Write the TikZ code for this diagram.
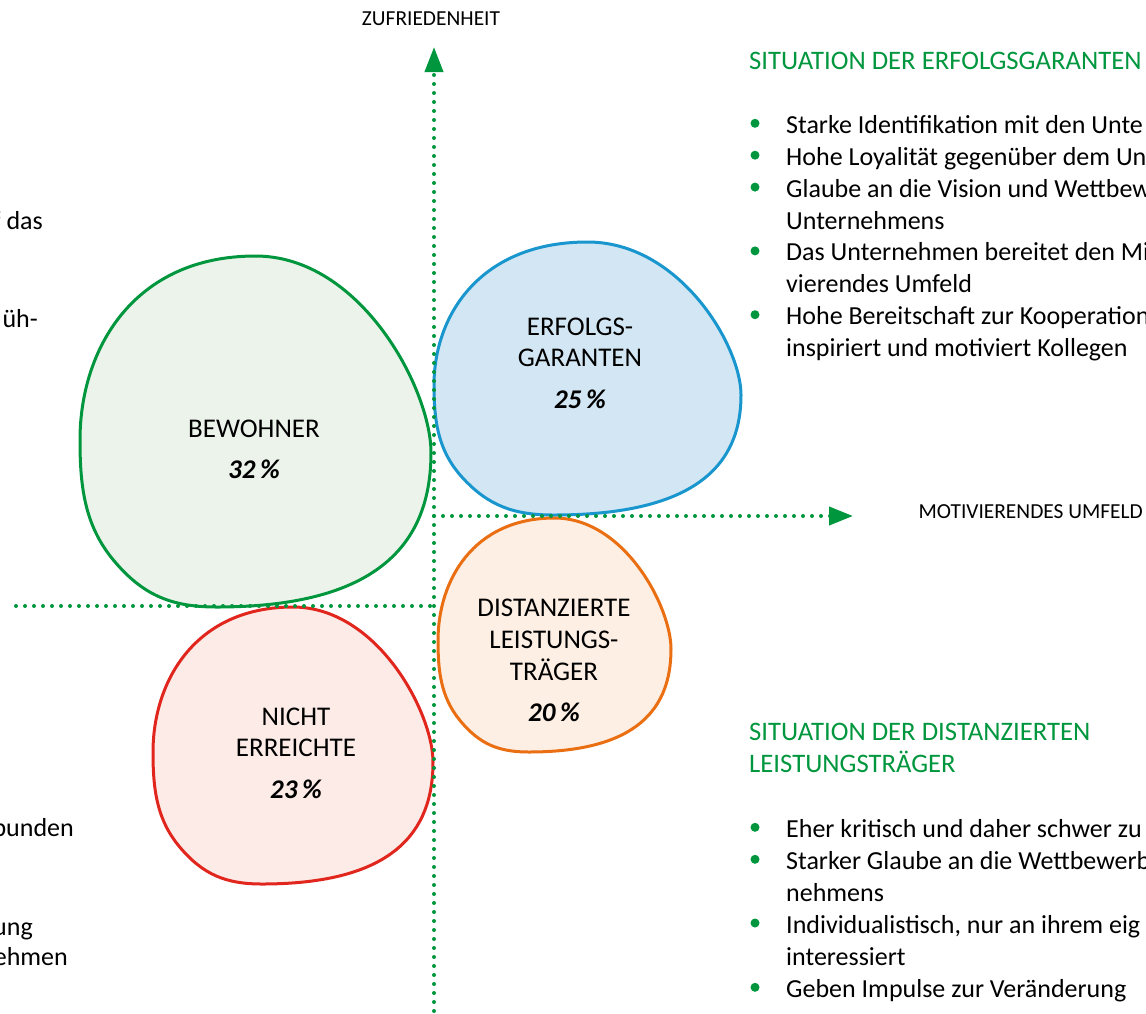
\documentclass[tikz,border=0pt]{standalone}
\usepackage{fontspec}
\setmainfont{Carlito}
\usetikzlibrary{positioning}
\usetikzlibrary{arrows.meta}

\definecolor{ggreen}{RGB}{0,150,62}
\definecolor{gfill}{RGB}{235,243,234}
\definecolor{bline}{RGB}{25,150,205}
\definecolor{bfill}{RGB}{210,230,243}
\definecolor{oline}{RGB}{234,110,18}
\definecolor{ofill}{RGB}{253,239,228}
\definecolor{rline}{RGB}{225,38,30}
\definecolor{rfill}{RGB}{252,235,230}

% one blob outline in a unit box, y pointing down
\newcommand{\blobpath}{(0.5,0) .. controls (0.8,0) and (1,0.38) .. (1,0.56)
  .. controls (1,0.813) and (0.857,1) .. (0.389,1)
  .. controls (0.26,1) and (0.178,0.966) .. (0.095,0.866)
  .. controls (0.012,0.766) and (0,0.654) .. (0,0.524)
  .. controls (0,0.265) and (0.153,0) .. (0.5,0) -- cycle}

\tikzset{
  blob/.style={line width=3pt},
  axis/.style={ggreen,line width=4pt,line cap=round,dash pattern=on 0pt off 9pt},
  lbl/.style={font=\fontsize{27}{31.7}\selectfont,align=center,anchor=base,inner sep=0pt},
  pct/.style={font=\fontsize{27}{30}\selectfont\bfseries\itshape,anchor=base,inner sep=0pt},
  head/.style={font=\fontsize{26.7}{32}\selectfont,text=ggreen,anchor=base west,inner sep=0pt},
  txt/.style={font=\fontsize{26}{32}\selectfont,anchor=base west,inner sep=0pt},
  cut/.style={font=\fontsize{26}{32}\selectfont,anchor=base east,inner sep=0pt},
  axlbl/.style={font=\fontsize{21.4}{24}\selectfont,anchor=base,inner sep=0pt},
}

\begin{document}
\begin{tikzpicture}[x=1pt,y=-1pt]
\useasboundingbox (0,0) rectangle (1146,1013);
\clip (0,0) rectangle (1146,1013);

% blobs
\begin{scope}[shift={(80,256)},xscale=351,yscale=351]
\draw[blob,draw=ggreen,fill=gfill] \blobpath;
\end{scope}
\begin{scope}[shift={(434,242)},xscale=307,yscale=273]
\draw[blob,draw=bline,fill=bfill] \blobpath;
\end{scope}
\begin{scope}[shift={(438,518)},xscale=233,yscale=234]
\draw[blob,draw=oline,fill=ofill] \blobpath;
\end{scope}
\begin{scope}[shift={(153,607)},xscale=280,yscale=277]
\draw[blob,draw=rline,fill=rfill] \blobpath;
\end{scope}

% axes
\coordinate (ybot) at (434,1020);
\coordinate (ytop) at (434,47);
\coordinate (orig) at (434,516);
\coordinate (xend) at (853,516);
\coordinate (lstart) at (16,606);
\coordinate (lend) at (432,606);
\draw[axis,-{Triangle[length=25pt,width=18pt]}] (ybot) -- (ytop);
\draw[axis,-{Triangle[length=24pt,width=18pt]}] (orig) -- (xend);
\draw[axis] (lstart) -- (lend);

\node[axlbl] (zuf) at (431,25) {ZUFRIEDENHEIT};
\node[axlbl,anchor=base east] (mot) at (1143,518.3) {MOTIVIERENDES UMFELD};

% labels in the blobs
\node[lbl] (bew) at (254,437.3) {BEWOHNER};
\node[pct] (bewp) at (254,478.3) {32\,\%};
\node[lbl] (erf) at (580,366.7) {ERFOLGS-\\GARANTEN};
\node[pct] (erfp) at (580,408.3) {25\,\%};
\node[lbl] (dis) at (554,680) {DISTANZIERTE\\LEISTUNGS-\\TRÄGER};
\node[pct] (disp) at (554,721.7) {20\,\%};
\node[lbl] (nic) at (296,756.7) {NICHT\\ERREICHTE};
\node[pct] (nicp) at (296,798.3) {23\,\%};

% right column, top
\node[head] (h1) at (749,69.3) {SITUATION DER ERFOLGSGARANTEN};
\fill[ggreen] (755,123.3) circle (4.5);
\node[txt] (a1) at (786,133.3) {Starke Identifikation mit den Unte};
\fill[ggreen] (755,155.2) circle (4.5);
\node[txt] (a2) at (786,165.2) {Hohe Loyalität gegenüber dem Un};
\fill[ggreen] (755,187.1) circle (4.5);
\node[txt] (a3) at (786,197.1) {Glaube an die Vision und Wettbew};
\node[txt] (a4) at (786,229) {Unternehmens};
\fill[ggreen] (755,250.9) circle (4.5);
\node[txt] (a5) at (786,260.9) {Das Unternehmen bereitet den Mi};
\node[txt] (a6) at (786,292.8) {vierendes Umfeld};
\fill[ggreen] (755,314.7) circle (4.5);
\node[txt] (a7) at (786,324.7) {Hohe Bereitschaft zur Kooperation};
\node[txt] (a8) at (786,356.6) {inspiriert und motiviert Kollegen};

% right column, bottom
\node[head] (h2) at (749,740.7) {SITUATION DER DISTANZIERTEN};
\node[head] (h3) at (749,772.7) {LEISTUNGSTRÄGER};
\fill[ggreen] (755,827.3) circle (4.5);
\node[txt] (b1) at (786,837.3) {Eher kritisch und daher schwer zu};
\fill[ggreen] (755,859.3) circle (4.5);
\node[txt] (b2) at (786,869.3) {Starker Glaube an die Wettbewerb};
\node[txt] (b3) at (786,901) {nehmens};
\fill[ggreen] (755,923) circle (4.5);
\node[txt] (b4) at (786,933) {Individualistisch, nur an ihrem eig};
\node[txt] (b5) at (786,965) {interessiert};
\fill[ggreen] (755,987.3) circle (4.5);
\node[txt] (b6) at (786,997.3) {Geben Impulse zur Veränderung};

% left column, cut off
\node[cut] (c1) at (43,229.5) {f das};
\node[cut] (c2) at (38,327) {üh-};
\node[cut] (c3) at (74,836.7) {bunden};
\node[cut] (c4) at (33,935) {ung};
\node[cut] (c5) at (68,965) {ehmen};

\end{tikzpicture}
\end{document}
